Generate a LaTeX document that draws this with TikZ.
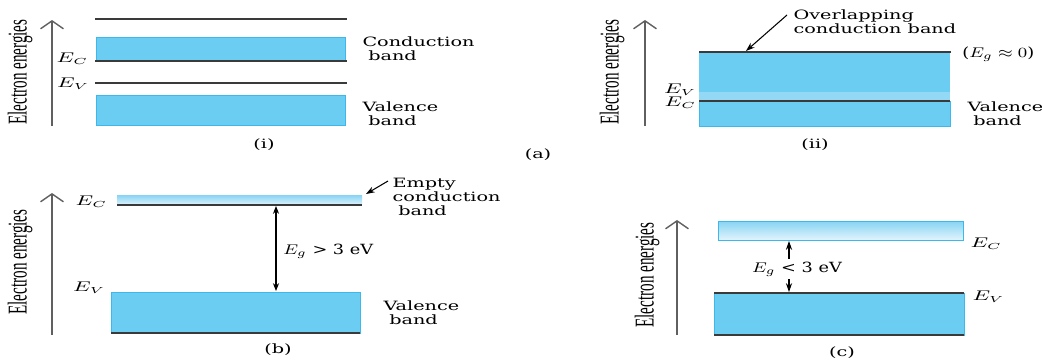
\documentclass[tikz,border=0pt]{standalone}
\usepackage{fontspec}
\usetikzlibrary{arrows.meta}
\newfontfamily\lblfont{DejaVu Serif}
\newfontfamily\axfont{Liberation Serif}
\definecolor{bandblue}{HTML}{6CCDF2}
\definecolor{bandlight}{HTML}{93D9F5}
\definecolor{bandedge}{HTML}{3DB8EC}
\definecolor{levelgray}{HTML}{3A3A3A}
\definecolor{gradtop}{HTML}{86D4F3}
\definecolor{gradbot}{HTML}{E2F4FC}
\tikzset{
  band/.style={fill=bandblue, draw=bandedge, line width=0.5pt},
  emptyband/.style={top color=gradtop, bottom color=gradbot},
  level/.style={draw=levelgray, line width=0.6pt},
  axis/.style={draw=gray!75!black, line width=0.8pt, -{Straight Barb[length=4.5pt,width=13pt]}},
  axlbl/.style={font=\axfont\fontsize{8.6}{9}\selectfont, xscale=1.8, rotate=90, inner sep=0pt},
  lbl/.style={font=\lblfont\fontsize{7.3}{8}\selectfont, xscale=1.5, align=left, inner sep=0pt},
  elbl/.style={font=\lblfont\fontsize{7.6}{8}\selectfont, xscale=1.5, inner sep=0pt},
  eglbl/.style={font=\lblfont\fontsize{8}{8}\selectfont, xscale=1.26, inner sep=0pt},
  ptr/.style={line width=0.6pt, -{Stealth[length=5pt,width=3.5pt]}},
  gap/.style={line width=0.6pt, {Stealth[length=4.5pt,width=3.5pt]}-{Stealth[length=4.5pt,width=3.5pt]}}
}
\begin{document}
\begin{tikzpicture}[x=0.02cm, y=-0.02cm, >=stealth]
  \useasboundingbox (0,0) rectangle (1042,362);
  % (i) separate bands
  \draw[axis] (52,126) -- (52,20);
  \node[axlbl] (axi) at (20,72) {Electron energies};
  \draw[level] (95,19) -- (347,19);
  \draw[band] (96,37) rectangle (345,61);
  \draw[level] (95,61) -- (347,61);
  \node[elbl, anchor=east] (eci) at (89,59) {$E_C$};
  \draw[level] (95,83) -- (347,83);
  \node[elbl, anchor=east] (evi) at (90,84) {$E_V$};
  \draw[band] (96,95) rectangle (345,125);
  \node[lbl, anchor=west] (cbi) at (362,49) {Conduction\\\hspace*{0.3em}band};
  \node[lbl, anchor=west] (vbi) at (362,114) {Valence\\\hspace*{0.3em}band};
  \node[lbl] (capi) at (264,145) {(i)};
  \node[lbl] (capa) at (538,155) {(a)};
  % (ii) overlapping bands
  \draw[axis] (645,126) -- (645,20);
  \node[axlbl] (axii) at (612,72) {Electron energies};
  \fill[bandblue] (699,52) rectangle (950,126);
  \fill[bandlight] (699,92) rectangle (950,101);
  \draw[bandedge, line width=0.5pt] (699,101) -- (699,126) -- (950,126) -- (950,101);
  \draw[level] (699,52) -- (951,52);
  \draw[level] (699,101) -- (950,101);
  \node[elbl, anchor=east] (evii) at (697,90) {$E_V$};
  \node[elbl, anchor=east] (ecii) at (697,103) {$E_C$};
  \node[eglbl, anchor=west] (egii) at (962,54) {($E_g \approx 0$)};
  \node[lbl, anchor=west] (vbii) at (967,114) {Valence\\\hspace*{0.3em}band};
  \node[lbl, anchor=west] (ovl) at (793,22) {Overlapping\\conduction band};
  \coordinate (ovltail) at (787,15);
  \coordinate (ovltip) at (746,51);
  \draw[ptr] (ovltail) -- (ovltip);
  \node[lbl] (capii) at (815,145) {(ii)};
  % (b) insulator
  \draw[axis] (52,335) -- (52,193);
  \node[axlbl] (axb) at (20,262) {Electron energies};
  \fill[emptyband] (117,195) rectangle (362,205);
  \draw[level] (117,205) -- (362,205);
  \node[elbl, anchor=east] (ecb) at (108,202) {$E_C$};
  \draw[band] (111,292) rectangle (360,333);
  \draw[level] (111,333) -- (360,333);
  \node[elbl, anchor=east] (evb) at (106,288) {$E_V$};
  \coordinate (btop) at (276,206);
  \coordinate (bbot) at (276,291);
  \draw[gap] (btop) -- (bbot);
  \node[eglbl, anchor=west] (egb) at (283,251) {$E_g$ > 3 eV};
  \node[lbl, anchor=west] (ecbb) at (392,197) {Empty\\conduction\\\hspace*{0.3em}band};
  \coordinate (ectail) at (388,181);
  \coordinate (ectip) at (366,194);
  \draw[ptr] (ectail) -- (ectip);
  \node[lbl, anchor=west] (vbb) at (383,313) {Valence\\\hspace*{0.3em}band};
  \node[lbl] (capb) at (278,350) {(b)};
  % (c) semiconductor
  \draw[axis] (677,335) -- (677,220);
  \node[axlbl] (axc) at (647,275) {Electron energies};
  \shade[emptyband, draw=bandedge, line width=0.5pt] (718,221) rectangle (963,240);
  \node[elbl, anchor=west] (ecc) at (970,244) {$E_C$};
  \draw[band] (714,293) rectangle (964,335);
  \draw[level] (714,293) -- (964,293);
  \draw[level] (714,335) -- (964,335);
  \node[elbl, anchor=west] (evc) at (972,297) {$E_V$};
  \node[eglbl, inner sep=1.5pt] (egc) at (797,269) {$E_g$ < 3 eV};
  \coordinate (ctop) at (789,241);
  \coordinate (cbot) at (789,292);
  \draw[ptr] (egc.north -| ctop) -- (ctop);
  \draw[ptr] (egc.south -| cbot) -- (cbot);
  \node[lbl] (capc) at (842,353) {(c)};
\end{tikzpicture}
\end{document}
